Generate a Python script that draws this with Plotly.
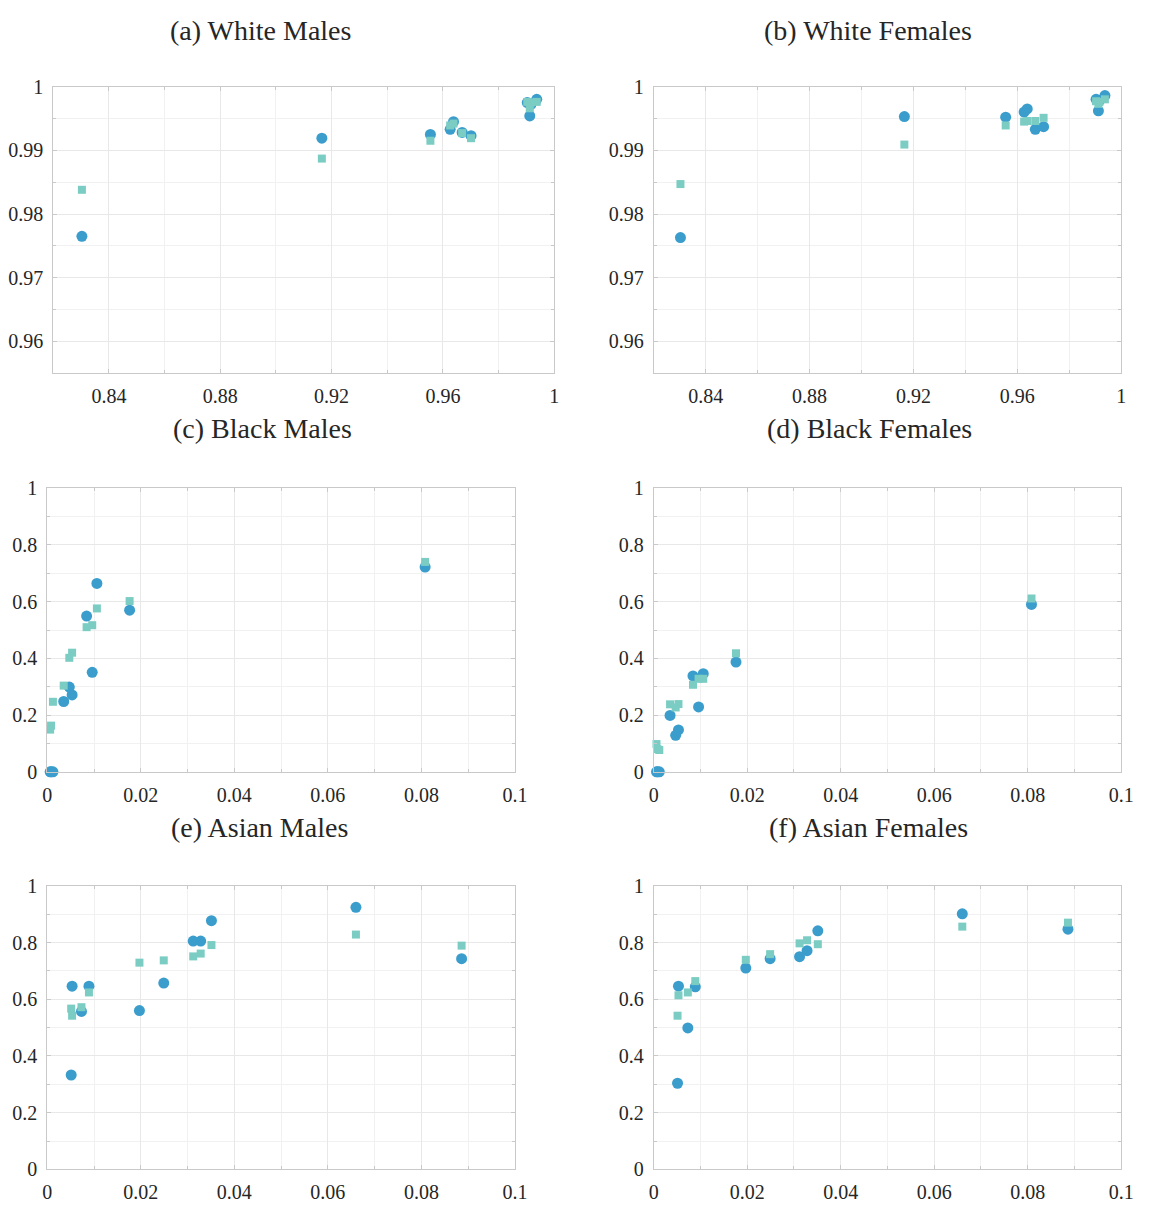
import plotly.graph_objects as go

# ---- data -------------------------------------------------------------
white_x = [0.8303, 0.9165, 0.9555, 0.9626, 0.9638, 0.9669, 0.9701, 0.9903, 0.9912, 0.9916, 0.9937]
white_m_circ = [0.9765, 0.9919, 0.9925, 0.9933, 0.9945, 0.9928, 0.9923, 0.9975, 0.9954, 0.9972, 0.9980]
white_m_sq = [0.9838, 0.9887, 0.9915, 0.9939, 0.9942, 0.9927, 0.9919, 0.9976, 0.9966, 0.9975, 0.9976]
white_f_circ = [0.9763, 0.9953, 0.9952, 0.9960, 0.9965, 0.9933, 0.9937, 0.9980, 0.9962, 0.9978, 0.9986]
white_f_sq = [0.9847, 0.9909, 0.9939, 0.9945, 0.9946, 0.9946, 0.9951, 0.9977, 0.9973, 0.9976, 0.9980]

black_x = [0.0006, 0.0008, 0.0012, 0.0035, 0.0047, 0.0053, 0.0084, 0.0096, 0.0106, 0.0176, 0.0808]
black_m_circ = [0.0, 0.0, 0.0, 0.248, 0.299, 0.271, 0.549, 0.351, 0.664, 0.570, 0.722]
black_m_sq = [0.149, 0.163, 0.247, 0.304, 0.402, 0.420, 0.510, 0.517, 0.576, 0.602, 0.740]
black_f_circ = [0.0, 0.0, 0.0, 0.199, 0.129, 0.148, 0.338, 0.229, 0.346, 0.387, 0.590]
black_f_sq = [0.098, 0.080, 0.077, 0.238, 0.227, 0.239, 0.307, 0.328, 0.328, 0.418, 0.611]

asian_x = [0.0051, 0.0053, 0.0073, 0.0089, 0.0197, 0.0249, 0.0312, 0.0328, 0.0351, 0.0660, 0.0886]
asian_m_circ = [0.333, 0.646, 0.557, 0.646, 0.560, 0.657, 0.805, 0.805, 0.877, 0.924, 0.743]
asian_m_sq = [0.567, 0.542, 0.572, 0.624, 0.729, 0.737, 0.751, 0.761, 0.791, 0.828, 0.789]
asian_f_circ = [0.304, 0.646, 0.499, 0.644, 0.710, 0.743, 0.750, 0.771, 0.841, 0.901, 0.847]
asian_f_sq = [0.542, 0.614, 0.624, 0.664, 0.739, 0.759, 0.797, 0.808, 0.794, 0.856, 0.870]

titles = ["(a) White Males", "(b) White Females", "(c) Black Males",
          "(d) Black Females", "(e) Asian Males", "(f) Asian Females"]

# ---- layout helpers ---------------------------------------------------
W, H = 1151, 1207
FONT = "Liberation Serif"
CIRC_COLOR = "#3b9dcc"
SQ_COLOR = "#7bcdc4"

# (x0, x1, y0, y1) plot boxes in pixels, top-left origin
boxes = [
    (49, 558, 77, 369), (659, 1134, 77, 369),
    (43, 518, 486, 775), (659, 1134, 486, 775),
    (43, 518, 891, 1180), (659, 1134, 891, 1180),
]
title_pos = [(260, 20), (877, 20), (262, 425), (878, 425), (259, 832), (877, 832)]

panels = [
    (white_x, white_m_circ, white_m_sq, [0.82, 1.0], 0.04, 0.02, [0.955, 1.0], 0.01, 0.005),
    (white_x, white_f_circ, white_f_sq, [0.82, 1.0], 0.04, 0.02, [0.955, 1.0], 0.01, 0.005),
    (black_x, black_m_circ, black_m_sq, [0, 0.1], 0.02, 0.01, [0, 1], 0.2, 0.1),
    (black_x, black_f_circ, black_f_sq, [0, 0.1], 0.02, 0.01, [0, 1], 0.2, 0.1),
    (asian_x, asian_m_circ, asian_m_sq, [0, 0.1], 0.02, 0.01, [0, 1], 0.2, 0.1),
    (asian_x, asian_f_circ, asian_f_sq, [0, 0.1], 0.02, 0.01, [0, 1], 0.2, 0.1),
]

fig = go.Figure()
layout = dict(
    width=W, height=H,
    margin=dict(l=0, r=0, t=0, b=0),
    paper_bgcolor="white", plot_bgcolor="white",
    showlegend=False,
    font=dict(family=FONT, size=20, color="#262626"),
    annotations=[],
)


def axis_style(rng, dtick, minor_dtick, domain, anchor):
    return dict(
        range=rng, domain=domain, anchor=anchor,
        tick0=0, dtick=dtick,
        showline=True, linecolor="#c9c9c9", linewidth=1, mirror="ticks",
        ticks="inside", ticklen=4, tickcolor="#c9c9c9", tickwidth=1,
        showgrid=True, gridcolor="#e8e8e8", gridwidth=1,
        zeroline=False,
        minor=dict(dtick=minor_dtick, tick0=0, showgrid=True, gridcolor="#f1f1f1",
                   ticks="inside", ticklen=3, tickcolor="#c9c9c9"),
        ticklabelstandoff=5,
        tickfont=dict(family=FONT, size=20, color="#262626"),
    )


for i, (xs, yc, ys, xr, xd, xm, yr, yd, ym) in enumerate(panels):
    n = i + 1
    xa = "x" if n == 1 else f"x{n}"
    ya = "y" if n == 1 else f"y{n}"
    x0, x1, y0, y1 = boxes[i]
    xdom = [x0 / W, x1 / W]
    ydom = [1 - y1 / H, 1 - y0 / H]
    layout["xaxis" if n == 1 else f"xaxis{n}"] = axis_style(xr, xd, xm, xdom, ya)
    layout["yaxis" if n == 1 else f"yaxis{n}"] = axis_style(yr, yd, ym, ydom, xa)

    fig.add_trace(go.Scatter(
        x=xs, y=yc, mode="markers", xaxis=xa, yaxis=ya, cliponaxis=False,
        marker=dict(symbol="circle", size=11, color=CIRC_COLOR, line=dict(width=0)),
    ))
    fig.add_trace(go.Scatter(
        x=xs, y=ys, mode="markers", xaxis=xa, yaxis=ya, cliponaxis=False,
        marker=dict(symbol="square", size=8, color=SQ_COLOR, line=dict(width=0)),
    ))

    tx, ty = title_pos[i]
    layout["annotations"].append(dict(
        text=titles[i], x=tx / W, y=1 - ty / H, xref="paper", yref="paper",
        xanchor="center", yanchor="middle", showarrow=False,
        font=dict(family=FONT, size=28, color="#262626"),
    ))

fig.update_layout(**layout)
fig.write_html("out.html")
